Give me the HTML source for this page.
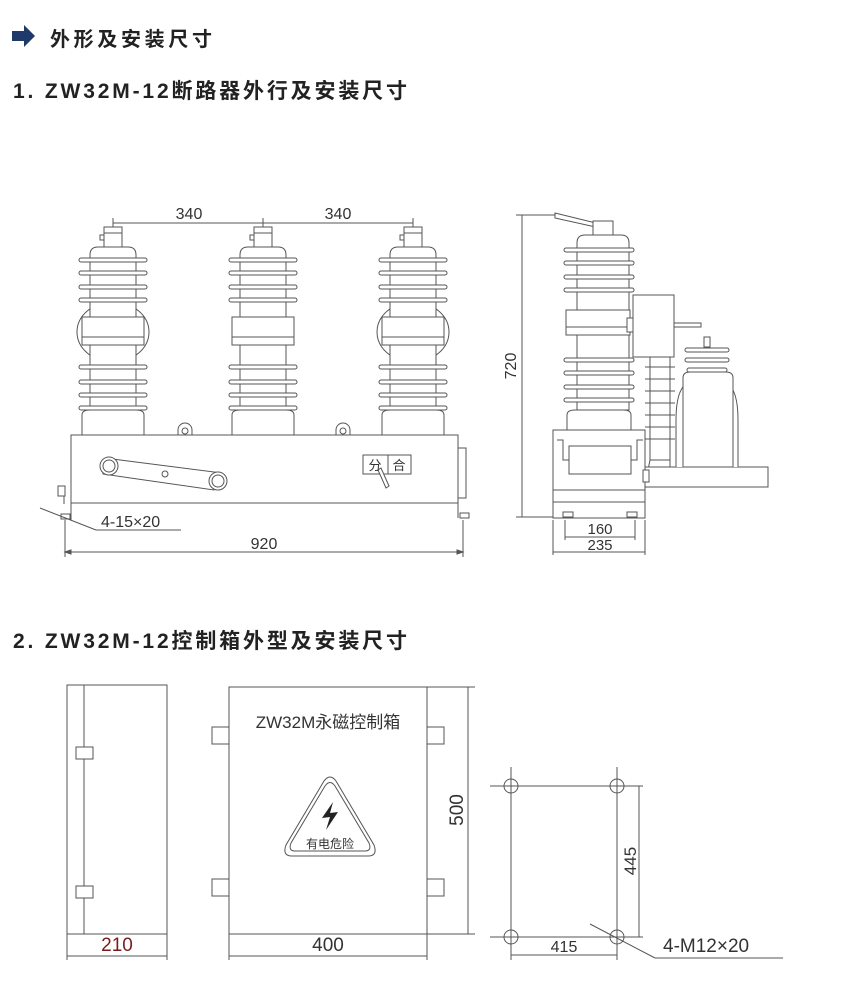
<!DOCTYPE html>
<html><head><meta charset="utf-8"><style>
html,body{margin:0;padding:0;background:#fff}
svg{display:block}
text{font-family:"Liberation Sans","Noto Sans CJK SC",sans-serif}
.h{font-weight:bold;fill:#222}
</style></head><body>
<svg width="850" height="989" viewBox="0 0 850 989" xmlns="http://www.w3.org/2000/svg">
<defs>
<g id="ins" fill="#fff" stroke="#555" stroke-width="1">
  <rect x="-9" y="-20" width="18" height="20"/>
  <line x1="-9" y1="-14" x2="9" y2="-14"/>
  <rect x="-13" y="-12" width="4" height="5"/>
  <path d="M-23 70 V8 Q-23 0 -15 0 H15 Q23 0 23 8 V70 Z"/>
  <rect x="-34" y="11" width="68" height="4" rx="2"/>
  <rect x="-34" y="24" width="68" height="4" rx="2"/>
  <rect x="-34" y="38" width="68" height="4" rx="2"/>
  <rect x="-34" y="51" width="68" height="4" rx="2"/>
  <rect x="-31" y="70" width="62" height="28"/>
  <line x1="-31" y1="90" x2="31" y2="90"/>
  <rect x="-23" y="98" width="46" height="22"/>
  <rect x="-34" y="118" width="68" height="4" rx="2"/>
  <rect x="-34" y="133" width="68" height="4" rx="2"/>
  <rect x="-34" y="146" width="68" height="4" rx="2"/>
  <rect x="-34" y="159" width="68" height="4" rx="2"/>
  <rect x="-23" y="122" width="46" height="11"/>
  <rect x="-23" y="137" width="46" height="9"/>
  <rect x="-23" y="150" width="46" height="9"/>
  <path d="M-31 188 V168 Q-31 163 -23 163 H23 Q31 163 31 168 V188 Z"/>
</g>
</defs>

<path d="M12 31 H24 V25 L35 36 L24 47 V41 H12 Z" fill="#1f3a6a"/>
<text x="50" y="46" class="h" font-size="20" textLength="162">外形及安装尺寸</text>
<text x="13" y="98" class="h" font-size="21" textLength="394">1. ZW32M-12断路器外行及安装尺寸</text>
<text x="13" y="648" class="h" font-size="21" textLength="394">2. ZW32M-12控制箱外型及安装尺寸</text>

<g stroke="#555" fill="none" stroke-width="1">
<line x1="113" y1="223" x2="413" y2="223"/>
<line x1="113" y1="218" x2="113" y2="228"/><line x1="263" y1="218" x2="263" y2="228"/><line x1="413" y1="218" x2="413" y2="228"/>
<ellipse cx="113" cy="332" rx="36" ry="30"/>
<ellipse cx="413" cy="332" rx="36" ry="30"/>
</g>
<text x="189" y="219" font-size="16" fill="#333" text-anchor="middle">340</text>
<text x="338" y="219" font-size="16" fill="#333" text-anchor="middle">340</text>
<use href="#ins" x="113" y="247"/>
<use href="#ins" x="263" y="247"/>
<use href="#ins" x="413" y="247"/>

<g stroke="#555" fill="#fff" stroke-width="1">
<path d="M178 435 V430 A7 7 0 0 1 192 430 V435 Z"/><circle cx="185" cy="431" r="3"/>
<path d="M336 435 V430 A7 7 0 0 1 350 430 V435 Z"/><circle cx="343" cy="431" r="3"/>
<rect x="71" y="435" width="387" height="68"/>
<rect x="458" y="448" width="8" height="50"/>
<line x1="71" y1="503" x2="71" y2="520"/><line x1="458" y1="503" x2="458" y2="518"/>
<rect x="61" y="514" width="9" height="5"/><rect x="460" y="513" width="9" height="5"/>
<rect x="58" y="486" width="7" height="10"/><line x1="64" y1="496" x2="64" y2="504"/>
<path d="M105 458 L222 473 L214 490 L103 474 Z"/>
<circle cx="109" cy="466" r="9"/><circle cx="109" cy="466" r="6"/>
<circle cx="218" cy="481" r="9"/><circle cx="218" cy="481" r="6"/>
<circle cx="165" cy="474" r="3"/>
<rect x="363" y="455" width="48" height="19"/><line x1="388" y1="455" x2="388" y2="474"/>
<path d="M378 470 L381 468 L389 486 L386 488 Z"/>
</g>
<text x="375" y="470" font-size="13" fill="#333" text-anchor="middle">分</text>
<text x="399" y="470" font-size="13" fill="#333" text-anchor="middle">合</text>
<g stroke="#555" fill="none" stroke-width="1">
<line x1="40" y1="508" x2="96" y2="530"/><line x1="96" y1="530" x2="181" y2="530"/>
<line x1="65" y1="520" x2="65" y2="557"/><line x1="463" y1="520" x2="463" y2="557"/>
<line x1="65" y1="552" x2="463" y2="552"/>
<path d="M65 552 l6 -2 v4 z M463 552 l-6 -2 v4 z" fill="#555"/>
</g>
<text x="101" y="527" font-size="16" fill="#333">4-15×20</text>
<text x="264" y="549" font-size="16" fill="#333" text-anchor="middle">920</text>

<g stroke="#555" fill="#fff" stroke-width="1">
<line x1="522" y1="215" x2="522" y2="517"/><line x1="516" y1="215" x2="555" y2="215"/><line x1="516" y1="517" x2="553" y2="517"/>
<path d="M555 213 L600 224 L600 228 L555 218 Z"/>
<rect x="593" y="221" width="20" height="14"/>
<path d="M577 310 V243 Q577 235 585 235 H621 Q629 235 629 243 V310 Z"/>
<rect x="564" y="248" width="70" height="4" rx="2"/><rect x="564" y="261" width="70" height="4" rx="2"/>
<rect x="564" y="275" width="70" height="4" rx="2"/><rect x="564" y="288" width="70" height="4" rx="2"/>
<rect x="566" y="310" width="64" height="25"/><line x1="566" y1="327" x2="630" y2="327"/>
<rect x="577" y="335" width="52" height="75"/>
<rect x="564" y="358" width="70" height="4" rx="2"/><rect x="564" y="371" width="70" height="4" rx="2"/>
<rect x="564" y="385" width="70" height="4" rx="2"/><rect x="564" y="398" width="70" height="4" rx="2"/>
<path d="M567 430 V415 Q567 410 575 410 H623 Q631 410 631 415 V430 Z"/>
<rect x="627" y="318" width="8" height="14"/>
<rect x="633" y="295" width="41" height="62"/>
<rect x="674" y="323" width="27" height="4"/>
<rect x="650" y="357" width="20" height="103"/>
<line x1="645" y1="367" x2="675" y2="367"/><line x1="645" y1="379" x2="675" y2="379"/><line x1="645" y1="391" x2="675" y2="391"/><line x1="645" y1="403" x2="675" y2="403"/><line x1="645" y1="415" x2="675" y2="415"/><line x1="645" y1="427" x2="675" y2="427"/><line x1="645" y1="439" x2="675" y2="439"/>
<path d="M650 460 H670 V480 Q670 487 660 487 H648 V470 Z"/>
<rect x="645" y="467" width="123" height="20"/>
<path d="M676 467 V420 Q676 390 687 383 H727 Q738 390 738 420 V467"/>
<path d="M683 467 V378 Q683 372 690 372 H726 Q733 372 733 378 V467 Z"/>
<rect x="704" y="337" width="6" height="10"/>
<rect x="685" y="348" width="44" height="4" rx="2"/><rect x="685" y="358" width="44" height="4" rx="2"/><rect x="687" y="368" width="40" height="4" rx="2"/>
<rect x="553" y="430" width="92" height="88"/>
<line x1="553" y1="490" x2="645" y2="490"/><line x1="553" y1="502" x2="645" y2="502"/>
<path d="M557 440 H563 V460 H637 V440 H643" fill="none"/>
<rect x="569" y="446" width="62" height="28"/>
<rect x="563" y="512" width="10" height="5"/><rect x="627" y="512" width="10" height="5"/>
<rect x="643" y="470" width="6" height="12"/>
<line x1="565" y1="520" x2="565" y2="540"/><line x1="635" y1="520" x2="635" y2="540"/>
<line x1="565" y1="537" x2="635" y2="537"/>
<line x1="553" y1="520" x2="553" y2="555"/><line x1="645" y1="520" x2="645" y2="555"/>
<line x1="553" y1="552" x2="645" y2="552"/>
</g>
<text x="600" y="534" font-size="15" fill="#333" text-anchor="middle">160</text>
<text x="600" y="550" font-size="15" fill="#333" text-anchor="middle">235</text>
<text transform="translate(516,366) rotate(-90)" font-size="16" fill="#333" text-anchor="middle">720</text>

<g stroke="#555" fill="#fff" stroke-width="1">
<rect x="67" y="685" width="100" height="249"/>
<line x1="84" y1="685" x2="84" y2="934"/>
<rect x="76" y="747" width="17" height="12"/><rect x="76" y="886" width="17" height="12"/>
<line x1="67" y1="934" x2="67" y2="960"/><line x1="167" y1="934" x2="167" y2="960"/>
<line x1="67" y1="956" x2="167" y2="956"/>
<rect x="229" y="687" width="198" height="247"/>
<rect x="212" y="727" width="17" height="17"/><rect x="212" y="879" width="17" height="17"/>
<rect x="427" y="727" width="17" height="17"/><rect x="427" y="879" width="17" height="17"/>
<line x1="229" y1="934" x2="229" y2="960"/><line x1="427" y1="934" x2="427" y2="960"/>
<line x1="229" y1="956" x2="427" y2="956"/>
<line x1="427" y1="687" x2="475" y2="687"/><line x1="427" y1="934" x2="475" y2="934"/>
<line x1="468" y1="687" x2="468" y2="934"/>
<path d="M324 781 Q330 773 336 781 L374 845 Q378 856 368 856 H292 Q282 856 286 845 Z"/>
<path d="M325 786 Q330 779 335 786 L369 843 Q372 851 365 851 H295 Q288 851 291 843 Z"/>
<line x1="490" y1="786" x2="643" y2="786"/><line x1="490" y1="937" x2="643" y2="937"/>
<line x1="511" y1="767" x2="511" y2="960"/><line x1="617" y1="767" x2="617" y2="960"/>
<circle cx="511" cy="786" r="7" fill="none"/><circle cx="617" cy="786" r="7" fill="none"/>
<circle cx="511" cy="937" r="7" fill="none"/><circle cx="617" cy="937" r="7" fill="none"/>
<line x1="639" y1="786" x2="639" y2="937"/>
<line x1="511" y1="955" x2="617" y2="955"/>
<line x1="590" y1="924" x2="655" y2="958"/><line x1="655" y1="958" x2="783" y2="958"/>
</g>
<path d="M333 802 L322 818 L330 817 L326 830 L338 812 L330 813 Z" fill="#222"/>
<text x="330" y="848" font-size="12" fill="#333" text-anchor="middle">有电危险</text>
<text x="328" y="728" font-size="17" fill="#333" text-anchor="middle">ZW32M永磁控制箱</text>
<text x="117" y="951" font-size="19" fill="#7a1c1c" text-anchor="middle">210</text>
<text x="328" y="951" font-size="19" fill="#333" text-anchor="middle">400</text>
<text transform="translate(463,810) rotate(-90)" font-size="19" fill="#333" text-anchor="middle">500</text>
<text transform="translate(636,861) rotate(-90)" font-size="17" fill="#333" text-anchor="middle">445</text>
<text x="564" y="952" font-size="16" fill="#333" text-anchor="middle">415</text>
<text x="663" y="952" font-size="19" fill="#333">4-M12×20</text>
</svg>
</body></html>
